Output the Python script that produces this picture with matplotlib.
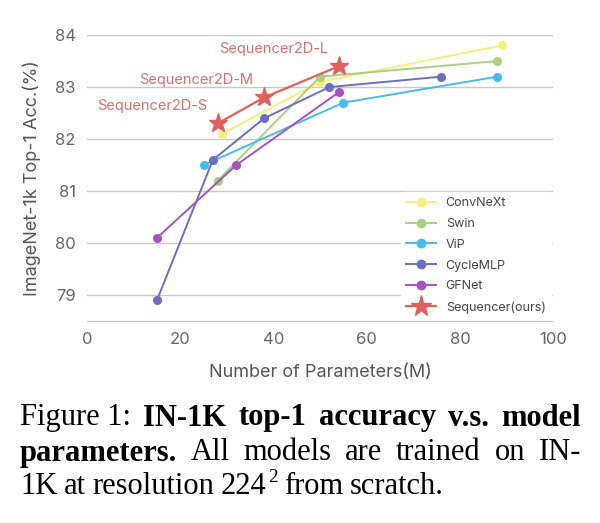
import matplotlib
matplotlib.use("Agg")
import matplotlib.pyplot as plt

# data (params in M, top-1 acc in %)
convnext_x = [29, 50, 89]
convnext_y = [82.1, 83.1, 83.8]
swin_x = [28, 50, 88]
swin_y = [81.2, 83.2, 83.5]
vip_x = [25, 55, 88]
vip_y = [81.5, 82.7, 83.2]
cyclemlp_x = [15, 27, 38, 52, 76]
cyclemlp_y = [78.9, 81.6, 82.4, 83.0, 83.2]
gfnet_x = [15, 32, 54]
gfnet_y = [80.1, 81.5, 82.9]
seq_x = [28, 38, 54]
seq_y = [82.3, 82.8, 83.4]
seq_names = ["Sequencer2D-S", "Sequencer2D-M", "Sequencer2D-L"]
x_ticks = [0, 20, 40, 60, 80, 100]
y_ticks = [79, 80, 81, 82, 83, 84]

plt.rcParams['font.family'] = ['Inter', 'DejaVu Sans']

fig = plt.figure(figsize=(6, 5.23), dpi=100)
ax = fig.add_axes([0.145, 0.386, 0.777, 0.547])

series = [
    ("ConvNeXt", convnext_x, convnext_y, '#f6ef7c'),
    ("Swin", swin_x, swin_y, '#a9d17f'),
    ("ViP", vip_x, vip_y, '#45bdea'),
    ("CycleMLP", cyclemlp_x, cyclemlp_y, '#6b6fbf'),
    ("GFNet", gfnet_x, gfnet_y, '#a552c2'),
]
for name, xs, ys, col in series:
    ax.plot(xs, ys, color=col, lw=1.4, marker='o', ms=5.5, label=name, zorder=3)

seq_col = '#e0605e'
ax.plot(seq_x, seq_y, color=seq_col, lw=1.6, marker='*', ms=14,
        label="Sequencer(ours)", zorder=4)

# labels for the sequencer points
label_pos = [(13.9, 82.63), (23.5, 83.13), (40.0, 83.73)]
for name, (lx, ly) in zip(seq_names, label_pos):
    ax.text(lx, ly, name, color='#d8716c', fontsize=10.5, ha='center', va='center')

ax.set_xlim(0, 100)
ax.set_ylim(78.5, 84)
ax.set_xticks(x_ticks)
ax.set_yticks(y_ticks)
ax.grid(axis='y', color='#c8c8c8', lw=1)
ax.set_axisbelow(True)
for s in ['top', 'right', 'left']:
    ax.spines[s].set_visible(False)
ax.spines['bottom'].set_color('#c8c8c8')
ax.tick_params(length=0, labelsize=12, colors='#666666', pad=8)
ax.set_xlabel("Number of Parameters(M)", fontsize=13, color='#555555', labelpad=12)
ax.set_ylabel("ImageNet-1k Top-1 Acc.(%)", fontsize=13, color='#555555', labelpad=10)

leg = ax.legend(loc='lower right', fontsize=9, frameon=True, framealpha=1,
                edgecolor='white', handlelength=2.4, labelspacing=0.7,
                borderaxespad=0.2, markerscale=1.1)
for t in leg.get_texts():
    t.set_color('#444444')

# caption with mixed bold / normal words, justified lines
# each word: (text, weight, superscript part)
serif = ['Liberation Serif', 'DejaVu Serif']
cap_size = 22
lines = [
    ([("Figure 1:", 'normal', ''), ("IN-1K", 'bold', ''), ("top-1", 'bold', ''),
      ("accuracy", 'bold', ''), ("v.s.", 'bold', ''), ("model", 'bold', '')], True),
    ([("parameters.", 'bold', ''), ("All", 'normal', ''), ("models", 'normal', ''),
      ("are", 'normal', ''), ("trained", 'normal', ''), ("on", 'normal', ''),
      ("IN-", 'normal', '')], True),
    ([("1K", 'normal', ''), ("at", 'normal', ''), ("resolution", 'normal', ''),
      ("224", 'normal', '2'), ("from", 'normal', ''), ("scratch.", 'normal', '')], False),
]
left, right = 20 / 600, 581 / 600
ys = [1 - 418 / 523, 1 - 453 / 523, 1 - 487 / 523]
fig.canvas.draw()
r = fig.canvas.get_renderer()
fw = fig.bbox.width
fh = fig.bbox.height
for (words, justify), yy in zip(lines, ys):
    pieces = []
    for w, wt, sup in words:
        t = fig.text(0, yy, w, family=serif, fontsize=cap_size, weight=wt, va='center')
        wd = t.get_window_extent(r).width / fw
        s = None
        if sup:
            s = fig.text(0, yy + 9 / fh, sup, family=serif, fontsize=cap_size * 0.62,
                         weight=wt, va='center')
            wd += s.get_window_extent(r).width / fw + 1 / fw
        pieces.append((t, s, wd))
    space = 0.011
    if justify:
        space = ((right - left) - sum(p[2] for p in pieces)) / (len(pieces) - 1)
    x = left
    for t, s, wd in pieces:
        t.set_x(x)
        if s is not None:
            s.set_x(x + t.get_window_extent(r).width / fw + 1 / fw)
        x += wd + space

fig.savefig("out.png", dpi=100)
